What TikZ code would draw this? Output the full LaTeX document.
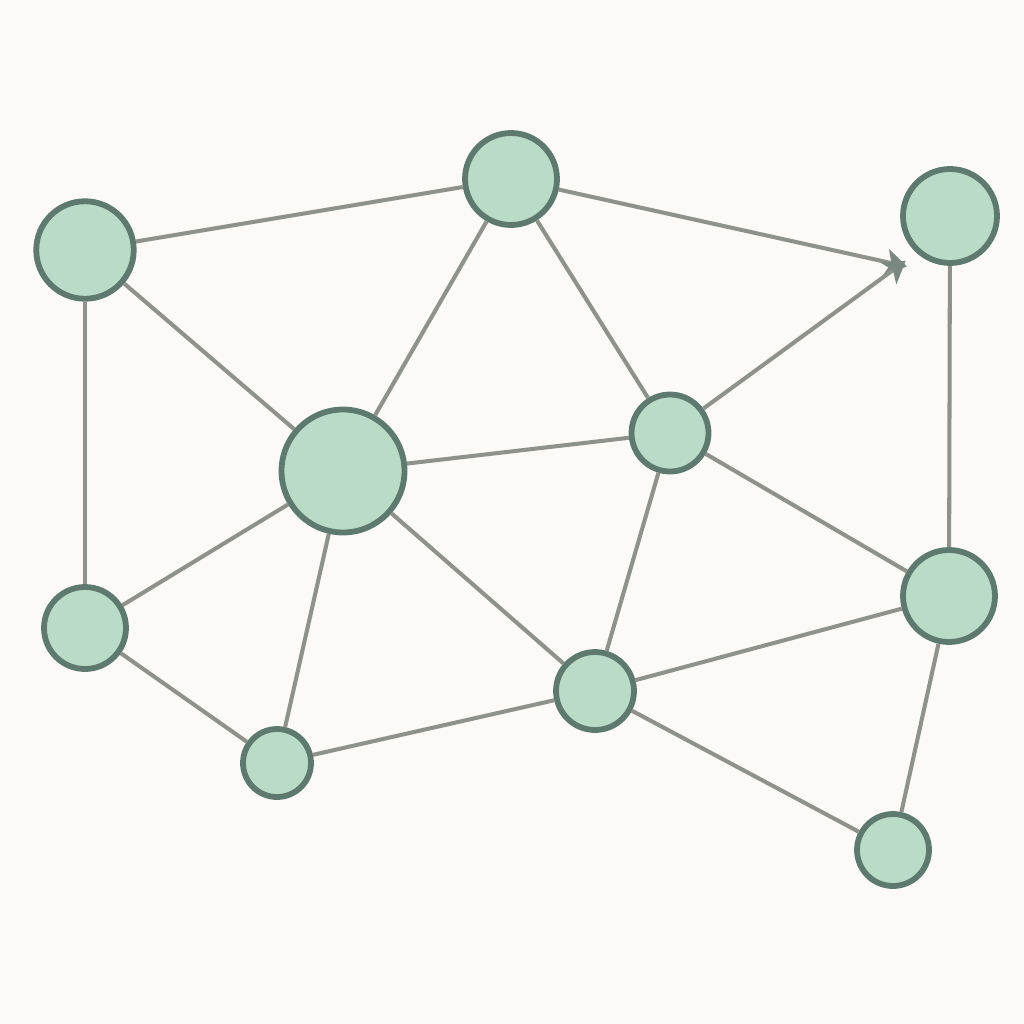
\documentclass[tikz,border=0pt]{standalone}
\usetikzlibrary{arrows.meta}
\definecolor{bg}{HTML}{FBFAF6}
\definecolor{nfill}{HTML}{BADBC8}
\definecolor{nborder}{HTML}{5E7A6E}
\definecolor{edgec}{HTML}{8E928A}
\definecolor{tipc}{HTML}{7A8880}
\begin{document}
\begin{tikzpicture}[x=0.02cm,y=-0.02cm,
  vtx/.style={circle,draw=nborder,fill=nfill,line width=3.3pt,inner sep=0pt},
  link/.style={draw=edgec,line width=2.3pt},
  arr/.style={link,-{Stealth[length=12pt,width=15pt,inset=3pt,color=tipc]},shorten >=-4pt}]
\fill[bg] (0,0) rectangle (1024,1024);
\useasboundingbox (0,0) rectangle (1024,1024);
\node[vtx,minimum size=1.95cm] (A) at (85,250) {};
\node[vtx,minimum size=1.84cm] (B) at (511,179) {};
\node[vtx,minimum size=1.88cm] (C) at (950,216) {};
\node[vtx,minimum size=2.46cm] (D) at (343,471) {};
\node[vtx,minimum size=1.54cm] (E) at (670,433) {};
\node[vtx,minimum size=1.64cm] (F) at (85,628) {};
\node[vtx,minimum size=1.36cm] (G) at (277,763) {};
\node[vtx,minimum size=1.56cm] (H) at (595,691) {};
\node[vtx,minimum size=1.84cm] (I) at (949,596) {};
\node[vtx,minimum size=1.44cm] (J) at (893,850) {};
\coordinate (P) at (900,265);
\path[link] (A) -- (B);
\path[link] (A) -- (D);
\path[link] (A) -- (F);
\path[link] (B) -- (D);
\path[link] (B) -- (E);
\path[link] (D) -- (E);
\path[link] (D) -- (F);
\path[link] (D) -- (G);
\path[link] (D) -- (H);
\path[link] (F) -- (G);
\path[link] (G) -- (H);
\path[link] (E) -- (H);
\path[link] (E) -- (I);
\path[link] (C) -- (I);
\path[link] (H) -- (I);
\path[link] (H) -- (J);
\path[link] (I) -- (J);
\path[arr] (B) -- (P);
\path[arr] (E) -- (P);
\end{tikzpicture}
\end{document}
